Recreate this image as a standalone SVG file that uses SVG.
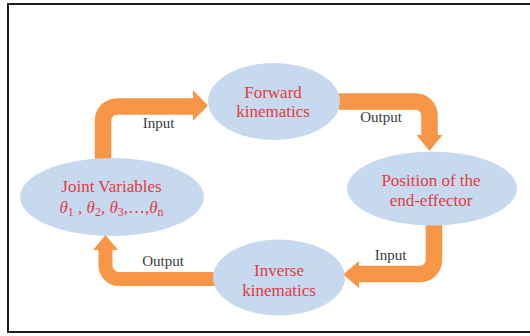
<svg xmlns="http://www.w3.org/2000/svg" width="530" height="336" viewBox="0 0 530 336">
<style>
.node{fill:#C6D9EF;}
.nt{font-family:"Liberation Serif","Times New Roman",serif;font-size:17px;fill:#E5393F;text-anchor:middle;}
.lbl{font-family:"Liberation Serif","Times New Roman",serif;font-size:15px;fill:#3a3a3a;text-anchor:middle;}
.shaft{fill:none;stroke:#F79646;stroke-width:16.5;}
.head{fill:#F79646;}
</style>
<rect x="0" y="0" width="530" height="336" fill="#ffffff"/>
<rect x="8" y="4" width="540" height="328" fill="none" stroke="#1e1e1e" stroke-width="2"/>
<g id="connectors">
<path class="shaft" d="M103,165 V120.5 A14,14 0 0 1 117,106.5 H195"/>
<polygon class="head" points="193,90 208,105.5 193,121"/>
<path class="shaft" d="M334,101.5 H415 A14,14 0 0 1 429.5,115.5 V137"/>
<polygon class="head" points="416.5,135 442.5,135 429.5,151"/>
<path class="shaft" d="M434,220 V260 A14,14 0 0 1 420,274 H357"/>
<polygon class="head" points="359,261 359,288 343,274.5"/>
<path class="shaft" d="M216,279 H119 A13.5,13.5 0 0 1 105.5,265.5 V248" style="stroke-width:14"/>
<polygon class="head" points="93,250 118,250 105.5,235"/>
<text class="lbl" x="158.5" y="128">Input</text>
<text class="lbl" x="381" y="122">Output</text>
<text class="lbl" x="390.5" y="260">Input</text>
<text class="lbl" x="163" y="266">Output</text>
</g>
<g id="forward">
<ellipse class="node" cx="274" cy="101.5" rx="66" ry="38.5"/>
<text class="nt" x="273" y="98">Forward</text>
<text class="nt" x="273" y="117">kinematics</text>
</g>
<g id="joint">
<ellipse class="node" cx="112" cy="197" rx="92" ry="39"/>
<text class="nt" x="111.5" y="192">Joint Variables</text>
<text class="nt" x="111.5" y="213"><tspan font-style="italic">θ</tspan><tspan font-size="12" dy="3">1</tspan><tspan dy="-3"> , </tspan><tspan font-style="italic">θ</tspan><tspan font-size="12" dy="3">2</tspan><tspan dy="-3">, </tspan><tspan font-style="italic">θ</tspan><tspan font-size="12" dy="3">3</tspan><tspan dy="-3">,…,</tspan><tspan font-style="italic">θ</tspan><tspan font-size="12" dy="3">n</tspan></text>
</g>
<g id="position">
<ellipse class="node" cx="432" cy="188.5" rx="85" ry="37"/>
<text class="nt" x="431" y="186">Position of the</text>
<text class="nt" x="431" y="206">end-effector</text>
</g>
<g id="inverse">
<ellipse class="node" cx="279" cy="277.5" rx="66" ry="38"/>
<text class="nt" x="279" y="276">Inverse</text>
<text class="nt" x="279" y="296">kinematics</text>
</g>
</svg>
